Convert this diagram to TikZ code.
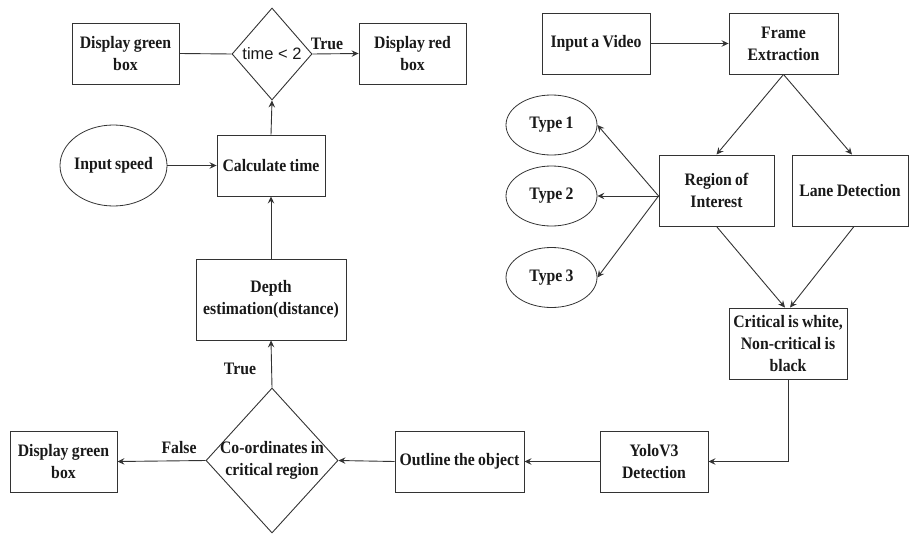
\documentclass[tikz,border=0pt]{standalone}
\usepackage{fontspec}
\setmainfont{Liberation Serif}[FakeStretch=0.9, WordSpace=0.85]
\newfontfamily\arialf{Liberation Sans}
\usetikzlibrary{shapes.geometric,arrows.meta}
\begin{document}
\begin{tikzpicture}[x=1pt,y=-1pt,
  every node/.style={font=\fontsize{17.5}{22}\selectfont\bfseries, align=center, text=black!90},
  box/.style 2 args={draw=black!80, line width=0.9pt, rectangle, minimum width=#1pt, minimum height=#2pt, inner sep=1pt},
  ell/.style={draw=black!80, line width=0.8pt, ellipse, minimum width=91pt, minimum height=60pt, inner sep=0pt},
  dia/.style 2 args={draw=black!80, line width=0.9pt, diamond, minimum width=#1pt, minimum height=#2pt, inner sep=0pt},
  conn/.style={draw=black!80, line width=0.9pt},
  arr/.style={conn, -{Stealth[length=7pt,width=6.5pt,inset=2.5pt]}},
  lbl/.style={inner sep=0pt}
]
\useasboundingbox (0,0) rectangle (909,535);

% top-left part
\node[box={107}{61}] (g1) at (125.5,53.5) {Display green\\box};
\node[dia={80}{92}, label={[font=\arialf\fontsize{16.5}{20}\selectfont]center:time < 2}] (d1) at (272,54) {};
\node[box={107}{61}] (red) at (412.5,53.5) {Display red\\box};
\node[ell, minimum width=107pt, minimum height=81pt, label={center:Input speed}] (speed) at (113.5,165.5) {};
\node[box={108}{61}] (calc) at (271,165.5) {Calculate time};
\node[box={150}{81}] (depth) at (271,299.5) {Depth\\estimation(distance)};

% bottom row
\node[dia={132}{145}, label={[align=center]center:Co-ordinates in\\critical region}] (d2) at (272,460.5) {};
\node[box={107}{61}] (g2) at (63.5,461.5) {Display green\\box};
\node[box={129}{61}] (outl) at (459.5,461.5) {Outline the object};
\node[box={108}{61}] (yolo) at (654,461.5) {YoloV3\\Detection};

% right part
\node[box={108}{61}] (video) at (596,43.5) {Input a Video};
\node[box={109}{61}] (frame) at (783.5,43.5) {Frame\\Extraction};
\node[box={115}{71}] (roi) at (716.5,190.5) {Region of\\Interest};
\node[box={116}{71}] (lane) at (850,190.5) {Lane Detection};
\node[box={118}{71}] (crit) at (788,343.5) {Critical is white,\\Non-critical is\\black};
\node[ell, label={center:Type 1}] (t1) at (551.5,125) {};
\node[ell, label={center:Type 2}] (t2) at (551.5,196) {};
\node[ell, label={center:Type 3}] (t3) at (551.5,277.5) {};

% labels
\node[lbl] (lt1) at (327,44) {True};
\node[lbl] (lt2) at (240,369) {True};
\node[lbl] (lf) at (179,448) {False};

% connectors
\draw[conn] (g1.east) -- (d1.west);
\draw[arr] (d1.east) -- (red.west);
\draw[arr] (speed.east) -- (calc.west);
\draw[arr] (calc.north) -- (d1.south);
\draw[arr] (depth.north) -- (calc.south);
\draw[arr] (d2.north) -- (depth.south);
\draw[arr] (d2.west) -- (g2.east);
\draw[arr] (outl.west) -- (d2.east);
\draw[arr] (yolo.west) -- (outl.east);
\draw[arr] (crit.south) |- (yolo.east);
\draw[arr] (video.east) -- (frame.west);
\draw[arr] (frame.south) -- (roi.north);
\draw[arr] (frame.south) -- ([xshift=2pt]lane.north);
\coordinate (roiL) at ([yshift=-5.5pt]roi.west);
\draw[arr] (roiL) -- (t1.east);
\draw[arr] (roiL) -- (t2.east);
\draw[arr] (roiL) -- (t3.east);
\draw[arr] (roi.south) -- ([xshift=-3pt]crit.north);
\draw[arr] ([xshift=4pt]lane.south) -- ([xshift=2pt]crit.north);
\end{tikzpicture}
\end{document}
